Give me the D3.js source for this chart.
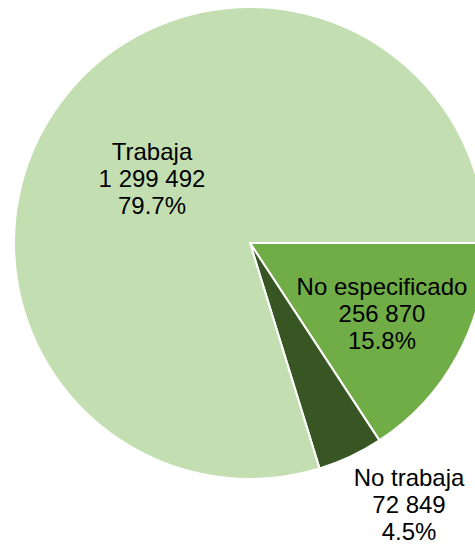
<!DOCTYPE html>
<html><head><meta charset="utf-8">
<script src="https://cdn.jsdelivr.net/npm/d3@7"></script>
<style>html,body{margin:0;padding:0;background:#fff;overflow:hidden}</style>
</head><body>
<svg id="c" width="475" height="546"></svg>
<script>
const categories = ["No especificado", "No trabaja", "Trabaja"];
const values = [256870, 72849, 1299492];
const valueLabels = ["256 870", "72 849", "1 299 492"];
const percentLabels = ["15.8%", "4.5%", "79.7%"];
const colors = ["#70ad47", "#375623", "#c3dfb1"];

const cx = 250, cy = 243, r = 236;
const labelPos = [[382, 295], [409, 486], [152, 160]];

const svg = d3.select("#c");
const g = svg.append("g").attr("transform", `translate(${cx},${cy})`);
const pie = d3.pie().sort(null).startAngle(Math.PI / 2).endAngle(Math.PI / 2 + 2 * Math.PI);
const arc = d3.arc().innerRadius(0).outerRadius(r);
const data = categories.map((c, i) => ({c, v: values[i], i}));
g.selectAll("path").data(pie.value(d => d.v)(data)).join("path")
  .attr("d", arc)
  .attr("fill", d => colors[d.data.i])
  .attr("stroke", "#fff").attr("stroke-width", 2).attr("stroke-linejoin", "round");

const lh = 27.2;
categories.forEach((c, i) => {
  const t = svg.append("text")
    .attr("x", labelPos[i][0]).attr("y", labelPos[i][1])
    .attr("text-anchor", "middle")
    .attr("font-family", "Liberation Sans, Arial, sans-serif")
    .attr("font-size", 24).attr("fill", "#000");
  [c, valueLabels[i], percentLabels[i]].forEach((s, k) => {
    t.append("tspan").attr("x", labelPos[i][0]).attr("dy", k === 0 ? 0 : lh).text(s);
  });
});
</script>
</body></html>
